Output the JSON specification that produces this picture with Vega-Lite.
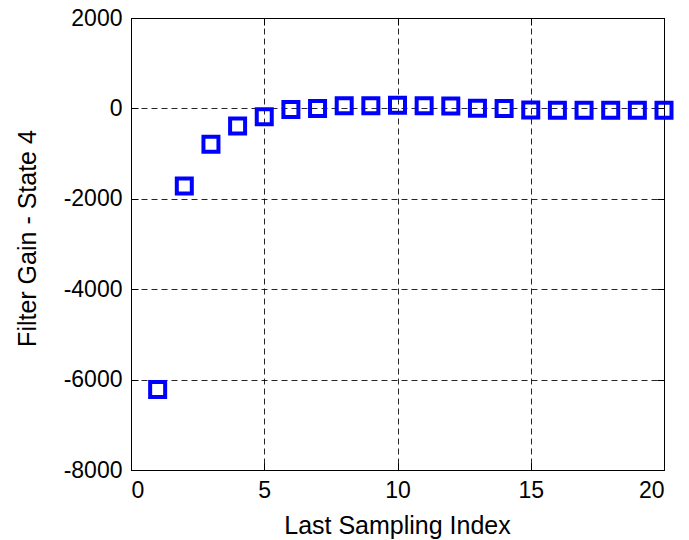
{
  "$schema": "https://vega.github.io/schema/vega-lite/v6.json",
  "width": 533,
  "height": 452,
  "autosize": {"type": "none"},
  "padding": {"left": 131, "top": 18, "right": 25, "bottom": 70},
  "background": "white",
  "config": {
    "view": {"stroke": "#000", "strokeWidth": 1},
    "axis": {
      "domainColor": "#000",
      "domainWidth": 1,
      "tickColor": "#000",
      "tickSize": -7,
      "tickWidth": 1,
      "gridColor": "#000",
      "gridDash": [6, 4],
      "gridWidth": 1,
      "gridOpacity": 0.85,
      "labelFont": "Liberation Sans",
      "labelFontSize": 23,
      "labelColor": "#000",
      "titleFont": "Liberation Sans",
      "titleFontSize": 25,
      "titleFontWeight": "normal",
      "titleColor": "#000"
    }
  },
  "data": {
    "values": [
      {"index": 1, "gain": -6220},
      {"index": 2, "gain": -1715},
      {"index": 3, "gain": -795},
      {"index": 4, "gain": -390},
      {"index": 5, "gain": -185},
      {"index": 6, "gain": -25},
      {"index": 7, "gain": 0},
      {"index": 8, "gain": 57},
      {"index": 9, "gain": 60},
      {"index": 10, "gain": 70},
      {"index": 11, "gain": 60},
      {"index": 12, "gain": 55},
      {"index": 13, "gain": 5},
      {"index": 14, "gain": 0},
      {"index": 15, "gain": -37},
      {"index": 16, "gain": -40},
      {"index": 17, "gain": -40},
      {"index": 18, "gain": -40},
      {"index": 19, "gain": -40},
      {"index": 20, "gain": -40}
    ]
  },
  "layer": [
    {
      "mark": {"type": "point", "shape": "square", "filled": false, "size": 225, "strokeWidth": 4, "color": "#0000ff", "opacity": 1},
      "encoding": {
        "x": {
          "field": "index", "type": "quantitative",
          "scale": {"domain": [0, 20], "nice": false, "zero": false},
          "axis": {
            "orient": "bottom", "values": [0, 5, 10, 15, 20], "grid": true,
            "title": "Last Sampling Index",
            "labelPadding": 34, "labelBaseline": "alphabetic",
            "labelExpr": "'' + datum.value",
            "titleX": 266, "titleY": 63, "titleBaseline": "alphabetic", "titleAnchor": "middle", "titleAlign": "center"
          }
        },
        "y": {
          "field": "gain", "type": "quantitative",
          "scale": {"domain": [-8000, 2000], "nice": false, "zero": false},
          "axis": {
            "orient": "left", "values": [-8000, -6000, -4000, -2000, 0, 2000], "grid": true,
            "title": "Filter Gain - State 4",
            "labelPadding": 16,
            "labelExpr": "datum.value < 0 ? '-' + abs(datum.value) : '' + datum.value",
            "titleX": -96, "titleY": 220, "titleAngle": -90, "titleBaseline": "alphabetic", "titleAlign": "center", "titleAnchor": "middle"
          }
        }
      }
    },
    {
      "mark": {"type": "point", "opacity": 0},
      "encoding": {
        "x": {
          "field": "index", "type": "quantitative",
          "scale": {"domain": [0, 20], "nice": false, "zero": false},
          "axis": {"orient": "top", "values": [0, 5, 10, 15, 20], "grid": false, "labels": false, "title": null}
        },
        "y": {
          "field": "gain", "type": "quantitative",
          "scale": {"domain": [-8000, 2000], "nice": false, "zero": false},
          "axis": {"orient": "right", "values": [-8000, -6000, -4000, -2000, 0, 2000], "grid": false, "labels": false, "title": null}
        }
      }
    }
  ],
  "resolve": {"axis": {"x": "independent", "y": "independent"}}
}
